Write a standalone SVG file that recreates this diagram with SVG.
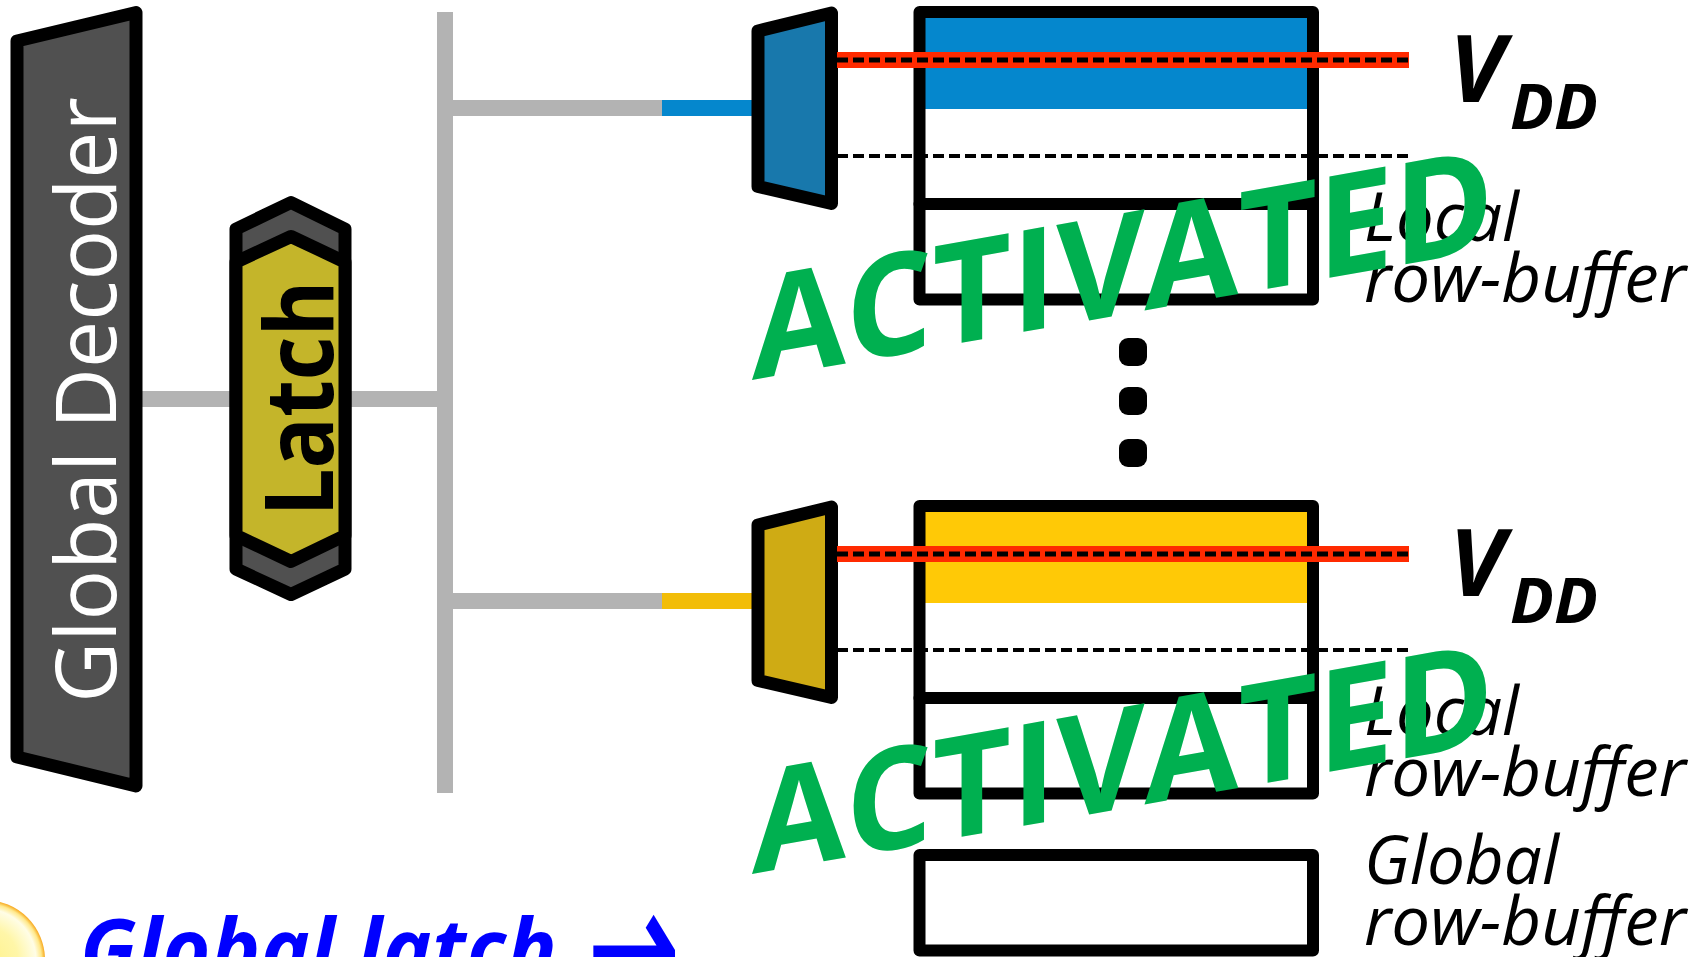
<svg xmlns="http://www.w3.org/2000/svg" width="1707" height="957" viewBox="0 0 1707 957">
<defs>
<radialGradient id="bulb" cx="0.5" cy="0.5" r="0.5"><stop offset="0" stop-color="#fff28a"/><stop offset="0.55" stop-color="#fff6a8"/><stop offset="0.85" stop-color="#fffde6"/><stop offset="0.94" stop-color="#ffe98c"/><stop offset="1" stop-color="#f7a81e"/></radialGradient>
</defs>
<style>
text{font-family:"Open Sans","Noto Sans","DejaVu Sans",sans-serif}
.bus{fill:#b3b3b3}
.sh{stroke:#000;stroke-width:13;stroke-linejoin:round}
.row{fill:none;stroke:#000;stroke-width:12;stroke-linejoin:round}
.lab{font-style:italic;font-size:67px;fill:#000}
.v{font-style:italic;font-weight:700;fill:#000}
.act{font-weight:700;font-size:142px;fill:#00b050}
.dash{fill:none;stroke:#000;stroke-dasharray:11 5}
</style>
<g id="connectors">
<rect class="bus" x="140" y="391" width="300" height="16"/>
<rect class="bus" x="437" y="12" width="16" height="781"/>
<rect class="bus" x="450" y="100" width="212" height="16"/>
<rect x="662" y="100" width="94" height="16" fill="#0587cd"/>
<rect class="bus" x="450" y="593" width="212" height="16"/>
<rect x="662" y="593" width="94" height="16" fill="#f2bd08"/>
</g>
<g id="global-decoder">
<polygon class="sh" points="17,41 136,12.5 136,786 17,757" fill="#505050"/>
<text transform="translate(116,400) rotate(-90)" text-anchor="middle" font-size="84" fill="#fff">Global Decoder</text>
</g>
<g id="latch">
<polygon class="sh" points="236,229 291,202.5 345,229 345,569 291,594.5 236,569" fill="#505050"/>
<polygon class="sh" points="236,262 291,236.5 345,262 345,535.5 291,561.5 236,535.5" fill="#c4b52a"/>
<text transform="translate(333,398.5) rotate(-90)" text-anchor="middle" font-size="95" font-weight="700" fill="#000" textLength="236" lengthAdjust="spacingAndGlyphs">Latch</text>
</g>
<g id="row-1">
<rect x="925" y="18" width="382" height="91" fill="#0587cd"/>
<rect class="row" x="919.5" y="12" width="393.5" height="192"/>
<rect class="row" x="919.5" y="204" width="393.5" height="95.5"/>
</g>
<g id="driver-1">
<polygon class="sh" points="758,31 831.5,13 831.5,203.5 758,186.5" fill="#1878ac"/>
</g>
<g id="wires-1">
<rect x="837" y="52" width="572" height="16" fill="#ff2a00"/>
<path class="dash" stroke-width="5" d="M837 60H1409"/>
<path class="dash" stroke-width="4" d="M837 156H1409"/>
</g>
<g id="row-2">
<rect x="925" y="512" width="382" height="91" fill="#ffc906"/>
<rect class="row" x="919.5" y="506" width="393.5" height="192"/>
<rect class="row" x="919.5" y="698" width="393.5" height="95.5"/>
</g>
<g id="driver-2">
<polygon class="sh" points="758,525 831.5,507 831.5,697.5 758,680.5" fill="#cfab14"/>
</g>
<g id="wires-2">
<rect x="837" y="546" width="572" height="16" fill="#ff2a00"/>
<path class="dash" stroke-width="5" d="M837 554H1409"/>
<path class="dash" stroke-width="4" d="M837 650H1409"/>
</g>
<g id="global-row-buffer">
<rect class="row" x="919.5" y="855" width="393.5" height="95.5"/>
</g>
<g id="dots" fill="#000">
<rect x="1119" y="338" width="28" height="28" rx="9"/>
<rect x="1119" y="387" width="28" height="28" rx="9"/>
<rect x="1119" y="439" width="28" height="28" rx="9"/>
</g>
<g id="labels">
<text class="v" x="1449" y="102" font-size="94">V</text><text class="v" x="1510" y="129" font-size="62" textLength="88" lengthAdjust="spacingAndGlyphs">DD</text>
<text class="v" x="1449" y="596" font-size="94">V</text><text class="v" x="1510" y="623" font-size="62" textLength="88" lengthAdjust="spacingAndGlyphs">DD</text>
<text class="lab" x="1364" y="241" textLength="155" lengthAdjust="spacingAndGlyphs">Local</text><text class="lab" x="1364" y="302" textLength="322" lengthAdjust="spacingAndGlyphs">row-buffer</text>
<text class="lab" x="1364" y="735" textLength="155" lengthAdjust="spacingAndGlyphs">Local</text><text class="lab" x="1364" y="796" textLength="322" lengthAdjust="spacingAndGlyphs">row-buffer</text>
<text class="lab" x="1364" y="884" textLength="195" lengthAdjust="spacingAndGlyphs">Global</text><text class="lab" x="1364" y="945" textLength="322" lengthAdjust="spacingAndGlyphs">row-buffer</text>
</g>
<g id="activated">
<text class="act" transform="matrix(1 -0.177 0 1 752 380)" textLength="742" lengthAdjust="spacingAndGlyphs">ACTIVATED</text>
<text class="act" transform="matrix(1 -0.177 0 1 752 874)" textLength="742" lengthAdjust="spacingAndGlyphs">ACTIVATED</text>
</g>
<g id="note">
<circle cx="-15" cy="960" r="60" fill="url(#bulb)"/>
<text x="80" y="978" font-size="82" font-style="italic" font-weight="700" fill="#0000ff" letter-spacing="0.8">Global latch</text>
<text transform="translate(587,947) scale(0.97,1.6)" y="42" font-size="115" font-style="italic" font-weight="700" fill="#0000ff">→</text>
</g>
</svg>
